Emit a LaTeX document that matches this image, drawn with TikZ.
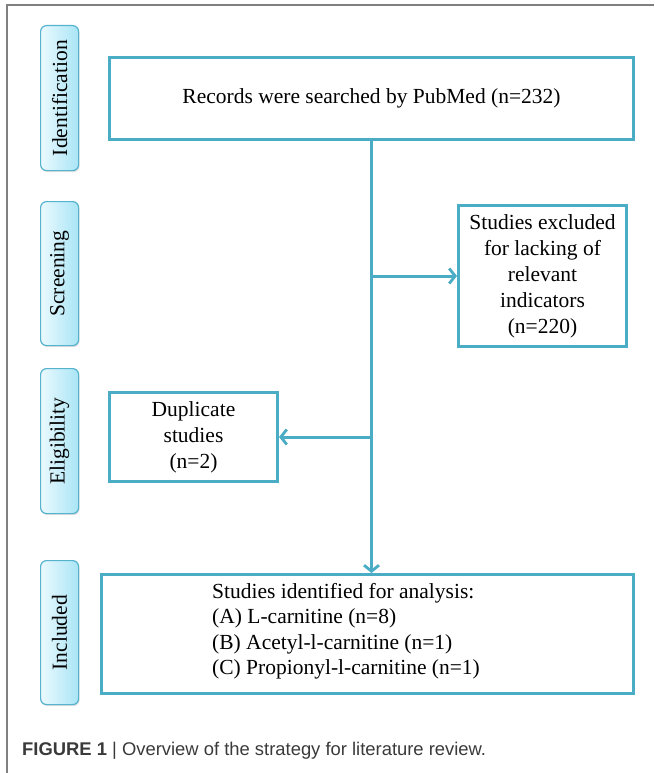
\documentclass[tikz,border=0pt]{standalone}
\usepackage{fontspec}
\setmainfont{Liberation Serif}
\newfontfamily\capfont{Liberation Sans}
\usetikzlibrary{arrows.meta,shadows}

\definecolor{boxblue}{HTML}{4BACC6}
\definecolor{tagedge}{HTML}{55B3CE}
\definecolor{tagleft}{HTML}{EAF9FE}
\definecolor{tagright}{HTML}{A9E5F6}
\definecolor{capgray}{HTML}{3A3A3A}

\tikzset{
	stage/.style={draw=boxblue, line width=3pt, anchor=north west, align=center,
		font=\fontsize{21.5}{26}\selectfont, inner sep=0pt},
	phase/.style={draw=tagedge, line width=1.2pt, rounded corners=6pt, anchor=north west,
		left color=tagleft, right color=tagright, inner sep=0pt,
		drop shadow={opacity=0.25, shadow xshift=1pt, shadow yshift=-1.5pt}},
	phasetext/.style={rotate=90, font=\fontsize{21.5}{24}\selectfont},
	flow/.style={draw=boxblue, line width=3pt, -{Straight Barb[length=6pt,width=15pt,line width=2.8pt]}}
}

\begin{document}
\begin{tikzpicture}[x=1pt,y=-1pt]
		\useasboundingbox (0,0) rectangle (654,773);
		
		%frame
		\draw[gray, line width=1.4pt] (7,773) -- (7,5) -- (654,5);
		
		%phase labels
		\node[phase, minimum width=38pt, minimum height=145pt] (ident) at (40,25) {};
		\node[phasetext] at (ident.center) {Identification};
		\node[phase, minimum width=38pt, minimum height=144pt] (screen) at (40,201) {};
		\node[phasetext] at (screen.center) {Screening};
		\node[phase, minimum width=38pt, minimum height=145pt] (elig) at (40,368) {};
		\node[phasetext] at (elig.center) {Eligibility};
		\node[phase, minimum width=38pt, minimum height=144pt] (incl) at (40,560) {};
		\node[phasetext] at (incl.center) {Included};
		
		%boxes
		\node[stage, minimum width=524pt, minimum height=82pt] (records) at (108,56)
			{Records were searched by PubMed (n=232)};
		\node[stage, minimum width=168pt, minimum height=141pt] (excluded) at (457,204)
			{Studies excluded\\for lacking of\\relevant\\indicators\\(n=220)};
		\node[stage, minimum width=168pt, minimum height=89pt] (duplicate) at (108,391)
			{Duplicate\\studies\\(n=2)};
		\node[stage, minimum width=532pt, minimum height=119pt] (included) at (100,573) {};
		\node[anchor=west, align=left, inner sep=0pt, font=\fontsize{21.5}{25.5}\selectfont]
			(analysis) at (212,631)
			{Studies identified for analysis:\\(A) L-carnitine (n=8)\\(B) Acetyl-l-carnitine (n=1)\\(C) Propionyl-l-carnitine (n=1)};
		
		%arrows
		\draw[flow] (records.south) -- (included.north -| records.south);
		\draw[flow] (records.south |- excluded.west) -- (excluded.west);
		\draw[flow] (records.south |- duplicate.east) -- (duplicate.east);
		
		%caption
		\node[anchor=base west, inner sep=0pt, text=capgray, font=\capfont\fontsize{18.4}{21}\selectfont]
			(caption) at (22,755) {\textbf{FIGURE 1} | Overview of the strategy for literature review.};
		
\end{tikzpicture}
\end{document}
